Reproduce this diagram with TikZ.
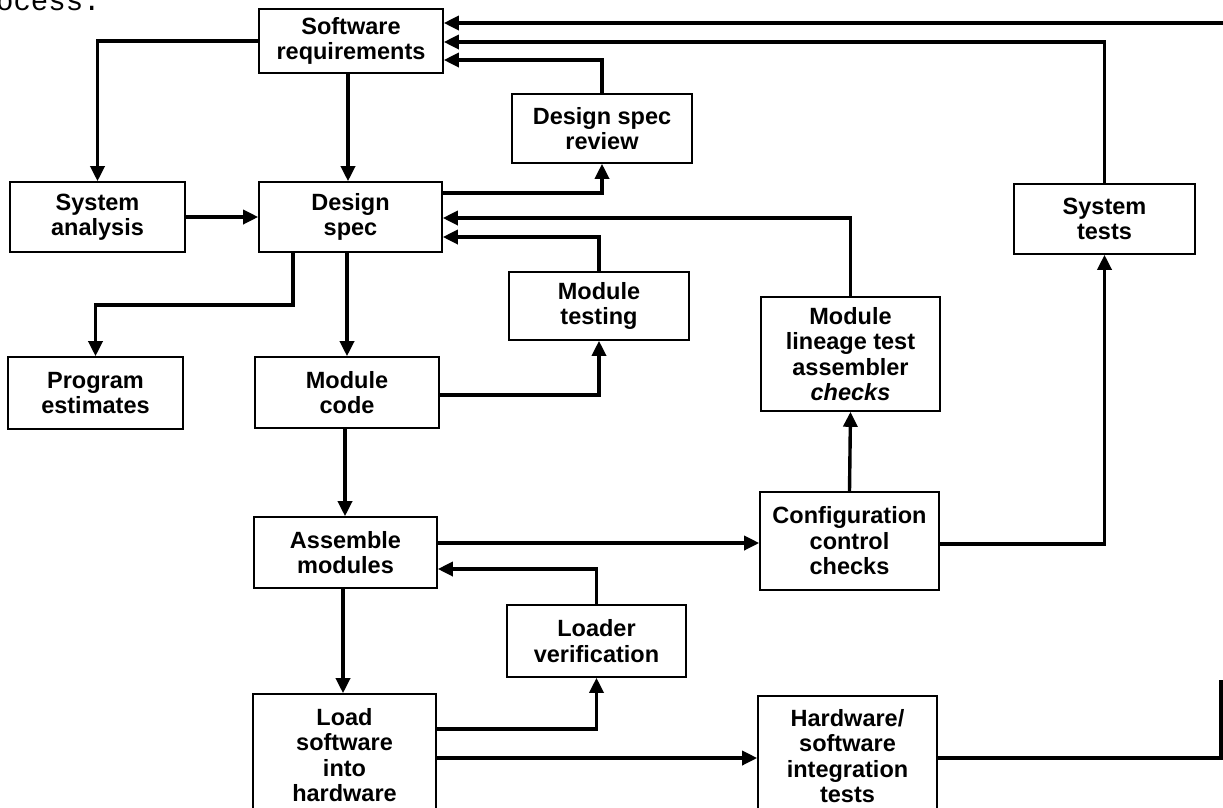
\documentclass[tikz,border=0pt]{standalone}
\usepackage{fontspec}
\setmainfont{Liberation Sans}
\newfontfamily\monofont{Liberation Mono}
\usetikzlibrary{arrows.meta}
\begin{document}
\begin{tikzpicture}[x=1pt,y=-1pt,
  box/.style={draw,line width=1.6pt,inner sep=0pt,align=center,
    font=\fontsize{23.5}{25.5}\selectfont\bfseries},
  conn/.style={line width=3.4pt,-{Triangle[length=15pt,width=14pt]}},
  plain/.style={line width=3.4pt}]
\clip (0,0) rectangle (1223,807);
\fill[white] (0,0) rectangle (1223,807);
% caption fragment
\node[anchor=base west,inner sep=0pt,font=\monofont\fontsize{29}{29}\selectfont] (cap) at (-4,10) {ocess.};
% boxes
\node[box,minimum width=184pt,minimum height=64pt] (SR) at (351,41) {Software\\requirements};
\node[box,minimum width=180pt,minimum height=69pt] (DSR) at (602,128.5) {Design spec\\review};
\node[box,minimum width=175pt,minimum height=70pt] (SA) at (97.5,217) {System\\analysis};
\node[box,minimum width=183pt,minimum height=70pt] (DS) at (350.5,217) {Design\\spec};
\node[box,minimum width=181pt,minimum height=70pt] (ST) at (1104.5,219) {System\\tests};
\node[box,minimum width=180pt,minimum height=68pt] (MT) at (599,306) {Module\\testing};
\node[box,minimum width=179pt,minimum height=114pt] (ML) at (850.5,354) {Module\\lineage test\\assembler\\\textit{checks}};
\node[box,minimum width=175pt,minimum height=72pt] (PE) at (95.5,393) {Program\\estimates};
\node[box,minimum width=184pt,minimum height=71pt] (MC) at (347,392.5) {Module\\code};
\node[box,minimum width=183pt,minimum height=71pt] (AM) at (345.5,552.5) {Assemble\\modules};
\node[box,minimum width=179pt,minimum height=98pt] (CC) at (849.5,541) {Configuration\\control\\checks};
\node[box,minimum width=179pt,minimum height=72pt] (LV) at (596.5,641) {Loader\\verification};
\node[box,minimum width=183pt,minimum height=122pt] (LS) at (344.5,755) {Load\\software\\into\\hardware};
\node[box,minimum width=179pt,minimum height=120pt] (HW) at (847.5,756) {Hardware/\\software\\integration\\tests};
% free ends
\coordinate (edgeT) at (1223,23);
\coordinate (edgeB) at (1221,680);
% connectors
\draw[conn] (SR.west |- 0,41) -| (SA.north);
\draw[conn] (SR.south -| 348,0) -- (DS.north -| 348,0);
\draw[conn] (SA.east) -- (DS.west);
\draw[conn] (DS.east |- 0,193) -| (DSR.south);
\draw[conn] (DSR.north) |- (SR.east |- 0,60);
\draw[conn] (ST.north) |- (SR.east |- 0,42);
\draw[conn] (edgeT) -- (edgeT -| SR.east);
\draw[conn] (ML.north) |- (DS.east |- 0,218);
\draw[conn] (MT.north) |- (DS.east |- 0,237);
\draw[conn] (DS.south -| 293,0) -- (293,305) -| (PE.north);
\draw[conn] (DS.south -| 347,0) -- (MC.north -| 347,0);
\draw[conn] (MC.east |- 0,395) -| (MT.south);
\draw[conn] (MC.south -| 345,0) -- (AM.north -| 345,0);
\draw[conn] (AM.east |- 0,543) -- (CC.west |- 0,543);
\draw[conn] (CC.north) -- (ML.south);
\draw[conn] (CC.east |- 0,544) -| (ST.south);
\draw[conn] (LV.north) |- (AM.east |- 0,569);
\draw[conn] (AM.south -| 343,0) -- (LS.north -| 343,0);
\draw[conn] (LS.east |- 0,729) -| (LV.south);
\draw[conn] (LS.east |- 0,758) -- (HW.west |- 0,758);
\draw[plain] (HW.east |- 0,758) -| (edgeB);
\end{tikzpicture}
\end{document}
